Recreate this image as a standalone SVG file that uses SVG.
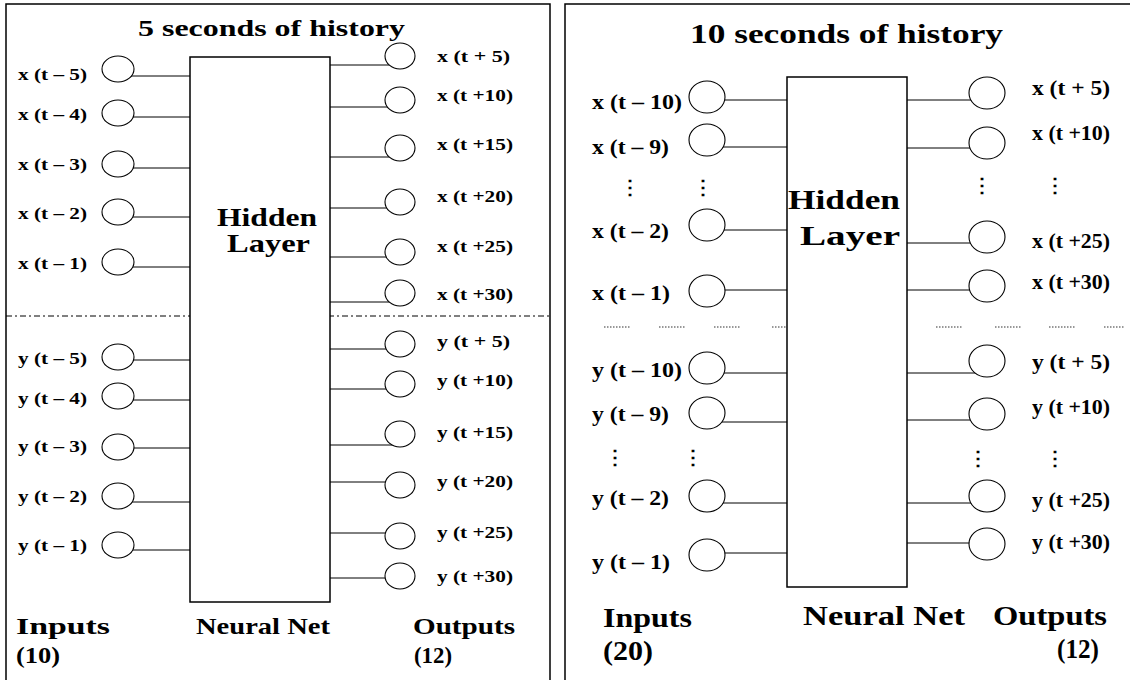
<svg xmlns="http://www.w3.org/2000/svg" width="1130" height="680" viewBox="0 0 1130 680">
<style>
text{font-family:"Liberation Serif","Times New Roman",serif;font-weight:bold;fill:#000}
.s{font-size:17px}
.m{font-size:20px}
.t1{font-size:23px}
.t2{font-size:27px}
.h1{font-size:25px}
.h2{font-size:28px}
.b1{font-size:24px}
.b2{font-size:27px}
.frame{fill:none;stroke:#000;stroke-width:1.5}
.box{fill:#fff;stroke:#000;stroke-width:1.5}
.c{stroke:#000;stroke-width:1;fill:none}
.n{fill:#fff;stroke:#000;stroke-width:1.1}
.dot{stroke:#333;stroke-width:1.2;stroke-dasharray:1.5 1.5}
.dv{font-family:"DejaVu Serif",serif}
</style>
<rect width="1130" height="680" fill="#fff"/>
<g id="frames">
<polyline class="frame" points="6,680 6,4 550,4 550,680"/>
<polyline class="frame" points="565,680 565,4 1130,4"/>
<line x1="6" y1="316" x2="550" y2="316" stroke="#000" stroke-width="1" stroke-dasharray="6 3 2 3"/>
<line class="dot" x1="604" y1="327" x2="631" y2="327"/>
<line class="dot" x1="659" y1="327" x2="686" y2="327"/>
<line class="dot" x1="714" y1="327" x2="741" y2="327"/>
<line class="dot" x1="772" y1="327" x2="797" y2="327"/>
<line class="dot" x1="827" y1="327" x2="854" y2="327"/>
<line class="dot" x1="882" y1="327" x2="906" y2="327"/>
<line class="dot" x1="936" y1="327" x2="963" y2="327"/>
<line class="dot" x1="995" y1="327" x2="1022" y2="327"/>
<line class="dot" x1="1049" y1="327" x2="1076" y2="327"/>
<line class="dot" x1="1104" y1="327" x2="1124" y2="327"/>
</g>
<g id="titles">
<text class="t1" x="138" y="36" textLength="267" lengthAdjust="spacingAndGlyphs">5 seconds of history</text>
<text class="t2" x="690" y="43" textLength="313" lengthAdjust="spacingAndGlyphs">10 seconds of history</text>
</g>
<g id="connectors">
<line class="c" x1="118" y1="76" x2="190" y2="76"/>
<line class="c" x1="118" y1="117" x2="190" y2="117"/>
<line class="c" x1="118" y1="168" x2="190" y2="168"/>
<line class="c" x1="118" y1="217" x2="190" y2="217"/>
<line class="c" x1="118" y1="267" x2="190" y2="267"/>
<line class="c" x1="118" y1="360" x2="190" y2="360"/>
<line class="c" x1="118" y1="400" x2="190" y2="400"/>
<line class="c" x1="118" y1="448" x2="190" y2="448"/>
<line class="c" x1="118" y1="502" x2="190" y2="502"/>
<line class="c" x1="118" y1="550" x2="190" y2="550"/>
<line class="c" x1="330" y1="65" x2="400" y2="65"/>
<line class="c" x1="330" y1="107" x2="400" y2="107"/>
<line class="c" x1="330" y1="157" x2="400" y2="157"/>
<line class="c" x1="330" y1="208" x2="400" y2="208"/>
<line class="c" x1="330" y1="257" x2="400" y2="257"/>
<line class="c" x1="330" y1="302" x2="400" y2="302"/>
<line class="c" x1="330" y1="349" x2="400" y2="349"/>
<line class="c" x1="330" y1="389" x2="400" y2="389"/>
<line class="c" x1="330" y1="445" x2="400" y2="445"/>
<line class="c" x1="330" y1="482" x2="400" y2="482"/>
<line class="c" x1="330" y1="533" x2="400" y2="533"/>
<line class="c" x1="330" y1="578" x2="400" y2="578"/>
<line class="c" x1="707" y1="100" x2="787" y2="100"/>
<line class="c" x1="707" y1="147" x2="787" y2="147"/>
<line class="c" x1="707" y1="230" x2="787" y2="230"/>
<line class="c" x1="707" y1="290" x2="787" y2="290"/>
<line class="c" x1="707" y1="373" x2="787" y2="373"/>
<line class="c" x1="707" y1="422" x2="787" y2="422"/>
<line class="c" x1="707" y1="503" x2="787" y2="503"/>
<line class="c" x1="707" y1="553" x2="787" y2="553"/>
<line class="c" x1="907" y1="100" x2="987" y2="100"/>
<line class="c" x1="907" y1="148" x2="987" y2="148"/>
<line class="c" x1="907" y1="243" x2="987" y2="243"/>
<line class="c" x1="907" y1="290" x2="987" y2="290"/>
<line class="c" x1="907" y1="373" x2="987" y2="373"/>
<line class="c" x1="907" y1="420" x2="987" y2="420"/>
<line class="c" x1="907" y1="503" x2="987" y2="503"/>
<line class="c" x1="907" y1="543" x2="987" y2="543"/>
</g>
<g id="hidden-5s">
<rect class="box" x="190" y="57" width="140" height="545"/>
<text class="h1" x="217" y="226" textLength="100" lengthAdjust="spacingAndGlyphs">Hidden</text>
<text class="h1" x="227" y="252" textLength="83" lengthAdjust="spacingAndGlyphs">Layer</text>
</g>
<g id="hidden-10s">
<rect class="box" x="787" y="77" width="120" height="510"/>
<text class="h2" x="788" y="209" textLength="112" lengthAdjust="spacingAndGlyphs">Hidden</text>
<text class="h2" x="800" y="245" textLength="100" lengthAdjust="spacingAndGlyphs">Layer</text>
</g>
<g id="inputs-5s">
<g id="in5-x5"><ellipse class="n" cx="118" cy="69" rx="16" ry="13"/><text class="s" x="18" y="80" textLength="69" lengthAdjust="spacingAndGlyphs">x (t – 5)</text></g>
<g id="in5-x4"><ellipse class="n" cx="118" cy="113" rx="16" ry="13"/><text class="s" x="18" y="120" textLength="69" lengthAdjust="spacingAndGlyphs">x (t – 4)</text></g>
<g id="in5-x3"><ellipse class="n" cx="118" cy="164" rx="16" ry="13"/><text class="s" x="18" y="170" textLength="69" lengthAdjust="spacingAndGlyphs">x (t – 3)</text></g>
<g id="in5-x2"><ellipse class="n" cx="118" cy="212" rx="16" ry="13"/><text class="s" x="18" y="219" textLength="69" lengthAdjust="spacingAndGlyphs">x (t – 2)</text></g>
<g id="in5-x1"><ellipse class="n" cx="118" cy="262" rx="16" ry="13"/><text class="s" x="18" y="269" textLength="69" lengthAdjust="spacingAndGlyphs">x (t – 1)</text></g>
<g id="in5-y5"><ellipse class="n" cx="118" cy="357" rx="16" ry="13"/><text class="s" x="18" y="364" textLength="69" lengthAdjust="spacingAndGlyphs">y (t – 5)</text></g>
<g id="in5-y4"><ellipse class="n" cx="118" cy="396" rx="16" ry="13"/><text class="s" x="18" y="404" textLength="69" lengthAdjust="spacingAndGlyphs">y (t – 4)</text></g>
<g id="in5-y3"><ellipse class="n" cx="118" cy="447" rx="16" ry="13"/><text class="s" x="18" y="452" textLength="69" lengthAdjust="spacingAndGlyphs">y (t – 3)</text></g>
<g id="in5-y2"><ellipse class="n" cx="118" cy="496" rx="16" ry="13"/><text class="s" x="18" y="502" textLength="69" lengthAdjust="spacingAndGlyphs">y (t – 2)</text></g>
<g id="in5-y1"><ellipse class="n" cx="118" cy="545" rx="16" ry="13"/><text class="s" x="18" y="551" textLength="69" lengthAdjust="spacingAndGlyphs">y (t – 1)</text></g>
</g>
<g id="outputs-5s">
<g id="out5-x5"><ellipse class="n" cx="400" cy="56" rx="15" ry="13"/><text class="s" x="437" y="62" textLength="73" lengthAdjust="spacingAndGlyphs">x (t + 5)</text></g>
<g id="out5-x10"><ellipse class="n" cx="400" cy="100" rx="15" ry="13"/><text class="s" x="437" y="101" textLength="76" lengthAdjust="spacingAndGlyphs">x (t +10)</text></g>
<g id="out5-x15"><ellipse class="n" cx="400" cy="148" rx="15" ry="13"/><text class="s" x="437" y="150" textLength="76" lengthAdjust="spacingAndGlyphs">x (t +15)</text></g>
<g id="out5-x20"><ellipse class="n" cx="400" cy="202" rx="15" ry="13"/><text class="s" x="437" y="202" textLength="76" lengthAdjust="spacingAndGlyphs">x (t +20)</text></g>
<g id="out5-x25"><ellipse class="n" cx="400" cy="252" rx="15" ry="13"/><text class="s" x="437" y="252" textLength="76" lengthAdjust="spacingAndGlyphs">x (t +25)</text></g>
<g id="out5-x30"><ellipse class="n" cx="400" cy="293" rx="15" ry="13"/><text class="s" x="437" y="300" textLength="76" lengthAdjust="spacingAndGlyphs">x (t +30)</text></g>
<g id="out5-y5"><ellipse class="n" cx="400" cy="344" rx="15" ry="13"/><text class="s" x="437" y="347" textLength="73" lengthAdjust="spacingAndGlyphs">y (t + 5)</text></g>
<g id="out5-y10"><ellipse class="n" cx="400" cy="384" rx="15" ry="13"/><text class="s" x="437" y="386" textLength="76" lengthAdjust="spacingAndGlyphs">y (t +10)</text></g>
<g id="out5-y15"><ellipse class="n" cx="400" cy="434" rx="15" ry="13"/><text class="s" x="437" y="438" textLength="76" lengthAdjust="spacingAndGlyphs">y (t +15)</text></g>
<g id="out5-y20"><ellipse class="n" cx="400" cy="485" rx="15" ry="13"/><text class="s" x="437" y="487" textLength="76" lengthAdjust="spacingAndGlyphs">y (t +20)</text></g>
<g id="out5-y25"><ellipse class="n" cx="400" cy="536" rx="15" ry="13"/><text class="s" x="437" y="538" textLength="76" lengthAdjust="spacingAndGlyphs">y (t +25)</text></g>
<g id="out5-y30"><ellipse class="n" cx="400" cy="576" rx="15" ry="13"/><text class="s" x="437" y="582" textLength="76" lengthAdjust="spacingAndGlyphs">y (t +30)</text></g>
</g>
<g id="inputs-10s">
<g id="in10-x10"><ellipse class="n" cx="707" cy="97" rx="18" ry="16"/><text class="m" x="592" y="109" textLength="90" lengthAdjust="spacingAndGlyphs">x (t – 10)</text></g>
<g id="in10-x9"><ellipse class="n" cx="707" cy="140" rx="18" ry="16"/><text class="m" x="592" y="154" textLength="77" lengthAdjust="spacingAndGlyphs">x (t – 9)</text></g>
<g id="in10-x2"><ellipse class="n" cx="707" cy="225" rx="18" ry="16"/><text class="m" x="592" y="238" textLength="77" lengthAdjust="spacingAndGlyphs">x (t – 2)</text></g>
<g id="in10-x1"><ellipse class="n" cx="707" cy="291" rx="18" ry="16"/><text class="m" x="592" y="300" textLength="78" lengthAdjust="spacingAndGlyphs">x (t – 1)</text></g>
<g id="in10-y10"><ellipse class="n" cx="707" cy="368" rx="18" ry="16"/><text class="m" x="592" y="377" textLength="90" lengthAdjust="spacingAndGlyphs">y (t – 10)</text></g>
<g id="in10-y9"><ellipse class="n" cx="707" cy="413" rx="18" ry="16"/><text class="m" x="592" y="421" textLength="77" lengthAdjust="spacingAndGlyphs">y (t – 9)</text></g>
<g id="in10-y2"><ellipse class="n" cx="707" cy="496" rx="18" ry="16"/><text class="m" x="592" y="505" textLength="77" lengthAdjust="spacingAndGlyphs">y (t – 2)</text></g>
<g id="in10-y1"><ellipse class="n" cx="707" cy="555" rx="18" ry="16"/><text class="m" x="592" y="569" textLength="78" lengthAdjust="spacingAndGlyphs">y (t – 1)</text></g>
<text class="m dv" x="630" y="194" text-anchor="middle">⋮</text>
<text class="m dv" x="703" y="194" text-anchor="middle">⋮</text>
<text class="m dv" x="615" y="464" text-anchor="middle">⋮</text>
<text class="m dv" x="693" y="464" text-anchor="middle">⋮</text>
</g>
<g id="outputs-10s">
<g id="out10-x5"><ellipse class="n" cx="987" cy="93" rx="18" ry="16"/><text class="m" x="1032" y="95" textLength="78" lengthAdjust="spacingAndGlyphs">x (t + 5)</text></g>
<g id="out10-x10"><ellipse class="n" cx="987" cy="143" rx="18" ry="16"/><text class="m" x="1032" y="140" textLength="78" lengthAdjust="spacingAndGlyphs">x (t +10)</text></g>
<g id="out10-x25"><ellipse class="n" cx="987" cy="237" rx="18" ry="16"/><text class="m" x="1032" y="248" textLength="78" lengthAdjust="spacingAndGlyphs">x (t +25)</text></g>
<g id="out10-x30"><ellipse class="n" cx="987" cy="286" rx="18" ry="16"/><text class="m" x="1032" y="289" textLength="78" lengthAdjust="spacingAndGlyphs">x (t +30)</text></g>
<g id="out10-y5"><ellipse class="n" cx="987" cy="361" rx="18" ry="16"/><text class="m" x="1032" y="369" textLength="78" lengthAdjust="spacingAndGlyphs">y (t + 5)</text></g>
<g id="out10-y10"><ellipse class="n" cx="987" cy="414" rx="18" ry="16"/><text class="m" x="1032" y="414" textLength="78" lengthAdjust="spacingAndGlyphs">y (t +10)</text></g>
<g id="out10-y25"><ellipse class="n" cx="987" cy="496" rx="18" ry="16"/><text class="m" x="1032" y="507" textLength="78" lengthAdjust="spacingAndGlyphs">y (t +25)</text></g>
<g id="out10-y30"><ellipse class="n" cx="987" cy="544" rx="18" ry="16"/><text class="m" x="1032" y="549" textLength="78" lengthAdjust="spacingAndGlyphs">y (t +30)</text></g>
<text class="m dv" x="982" y="192" text-anchor="middle">⋮</text>
<text class="m dv" x="1055" y="192" text-anchor="middle">⋮</text>
<text class="m dv" x="978" y="465" text-anchor="middle">⋮</text>
<text class="m dv" x="1055" y="465" text-anchor="middle">⋮</text>
</g>
<g id="captions">
<text class="b1" x="16" y="634" textLength="94" lengthAdjust="spacingAndGlyphs">Inputs</text>
<text class="b1" x="16" y="663" textLength="44" lengthAdjust="spacingAndGlyphs">(10)</text>
<text class="b1" x="196" y="634" textLength="134" lengthAdjust="spacingAndGlyphs">Neural Net</text>
<text class="b1" x="413" y="634" textLength="102" lengthAdjust="spacingAndGlyphs">Outputs</text>
<text class="b1" x="414" y="663" textLength="38" lengthAdjust="spacingAndGlyphs">(12)</text>
<text class="b2" x="603" y="627" textLength="89" lengthAdjust="spacingAndGlyphs">Inputs</text>
<text class="b2" x="603" y="660" textLength="50" lengthAdjust="spacingAndGlyphs">(20)</text>
<text class="b2" x="803" y="625" textLength="162" lengthAdjust="spacingAndGlyphs">Neural Net</text>
<text class="b2" x="993" y="625" textLength="114" lengthAdjust="spacingAndGlyphs">Outputs</text>
<text class="b2" x="1057" y="658" textLength="42" lengthAdjust="spacingAndGlyphs">(12)</text>
</g>
</svg>
